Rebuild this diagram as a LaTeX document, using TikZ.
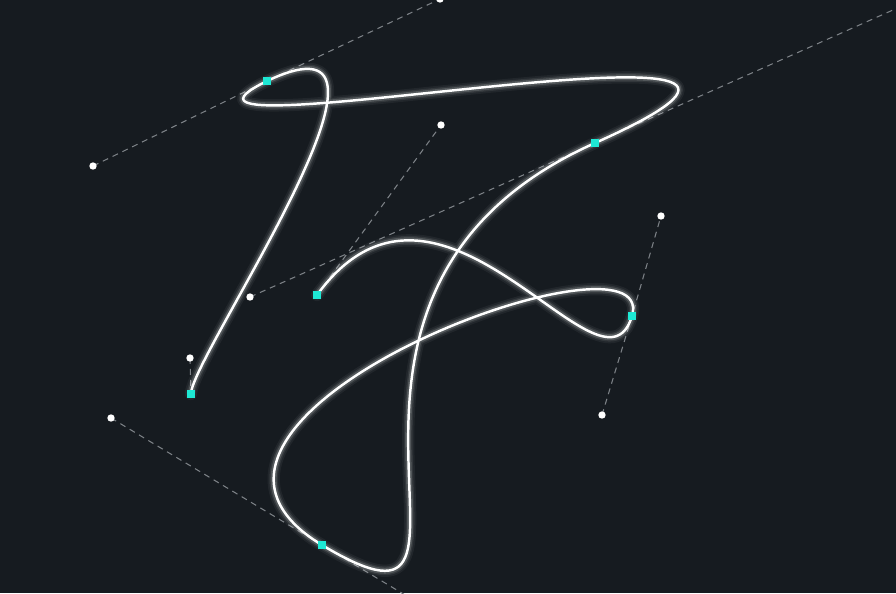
\documentclass[tikz,border=0pt]{standalone}
\usepackage{xcolor}
\definecolor{colBg}{RGB}{22,27,32}
\definecolor{colAnchor}{RGB}{30,232,212}
\definecolor{colHandleLine}{RGB}{125,130,135}
\usetikzlibrary{arrows.meta, positioning, calc}

\begin{document}
\begin{tikzpicture}[
		x=0.02cm, y=-0.02cm,
		handle/.style={draw=colHandleLine, line width=0.6pt, dash pattern=on 3.4pt off 2.8pt},
		glow/.style={draw=white, line cap=round, line join=round},
		knob/.style={circle, fill=white, inner sep=0pt, minimum size=4.2pt},
		anchorpt/.style={rectangle, fill=colAnchor, inner sep=0pt, minimum size=4.8pt}
	]
		% ===== BACKGROUND =====
		\fill[colBg] (0,0) rectangle (896,593);
		\useasboundingbox (0,0) rectangle (896,593);
		\clip (0,0) rectangle (896,593);

		% Anchor points of the spline
		\coordinate (a1) at (317,295);
		\coordinate (a2) at (632,316);
		\coordinate (a3) at (322,545);
		\coordinate (a4) at (595,143);
		\coordinate (a5) at (267,81);
		\coordinate (a6) at (191,394);

		% Control handles
		\coordinate (h1out) at (441,125);
		\coordinate (h2in) at (602,415);
		\coordinate (h2out) at (661,216);
		\coordinate (h3in) at (111,418);
		\coordinate (h3out) at (533,672);
		\coordinate (h4in) at (250,297);
		\coordinate (h4out) at (940,-11);
		\coordinate (h5in) at (93,166);
		\coordinate (h5out) at (440,-1);
		\coordinate (h6in) at (190,358);

		% ===== HANDLE LINES (dashed) =====
		\draw[handle] (a1) -- (h1out);
		\draw[handle] (h2in) -- (a2) -- (h2out);
		\draw[handle] (h3in) -- (a3) -- (h3out);
		\draw[handle] (h4in) -- (a4) -- (h4out);
		\draw[handle] (h5in) -- (a5) -- (h5out);
		\draw[handle] (h6in) -- (a6);

		% ===== SPLINE with glow =====
		\foreach \w/\o in {7pt/0.05, 5pt/0.08, 3.4pt/0.16, 1.4pt/1} {
			\draw[glow, line width=\w, opacity=\o]
				(a1) .. controls (h1out) and (h2in) .. (a2)
				.. controls (h2out) and (h3in) .. (a3)
				.. controls (h3out) and (h4in) .. (a4)
				.. controls (h4out) and (h5in) .. (a5)
				.. controls (h5out) and (h6in) .. (a6);
		}

		% Handle knobs
		\node[knob] (k1) at (h1out) {};
		\node[knob] (k2) at (h2in) {};
		\node[knob] (k3) at (h2out) {};
		\node[knob] (k4) at (h3in) {};
		\node[knob] (k5) at (h4in) {};
		\node[knob] (k6) at (h5in) {};
		\node[knob] (k7) at (h5out) {};
		\node[knob] (k8) at (h6in) {};

		% Anchor squares
		\node[anchorpt] (p1) at (a1) {};
		\node[anchorpt] (p2) at (a2) {};
		\node[anchorpt] (p3) at (a3) {};
		\node[anchorpt] (p4) at (a4) {};
		\node[anchorpt] (p5) at (a5) {};
		\node[anchorpt] (p6) at (a6) {};
	\end{tikzpicture}
\end{document}
